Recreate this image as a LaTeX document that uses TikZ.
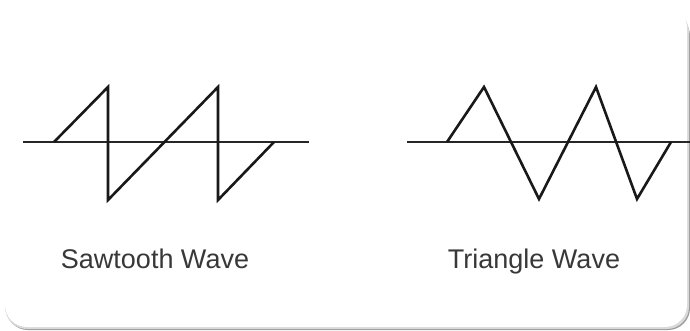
\documentclass[tikz,border=0pt]{standalone}
\usepackage{fontspec}
\setmainfont{Liberation Sans}
\begin{document}
\begin{tikzpicture}[x=1pt,y=-1pt,
  wave/.style={line width=2.6pt, draw=black!90, line join=miter},
  axis/.style={line width=1.6pt, draw=black!85},
  lbl/.style={font=\fontsize{27}{32}\selectfont, text=black!78, inner sep=0pt, anchor=base}]
\useasboundingbox (0,0) rectangle (690,330);
\fill[white] (0,0) rectangle (690,330);
% card with soft shadow
\fill[black!40, rounded corners=22pt] (6,14) rectangle (690,330);
\fill[black!15, rounded corners=22pt] (5,10) rectangle (689,329);
\fill[white, rounded corners=22pt] (5,6) rectangle (687,327);
% sawtooth
\coordinate (sa1) at (23,142);
\coordinate (sa2) at (309,142);
\draw[axis] (sa1) -- (sa2);
\draw[wave] (54,142) -- (108,87) -- (108,200) -- (218,87) -- (218,200) -- (274,142);
% triangle
\coordinate (ta1) at (407,142);
\coordinate (ta2) at (690,142);
\draw[axis] (ta1) -- (ta2);
\draw[wave] (447,142) -- (484,87) -- (539,199) -- (596,87) -- (637,199) -- (671,142);
% labels
\node[lbl] (saw) at (155,268) {Sawtooth Wave};
\node[lbl] (tri) at (534,268) {Triangle Wave};
\end{tikzpicture}
\end{document}
